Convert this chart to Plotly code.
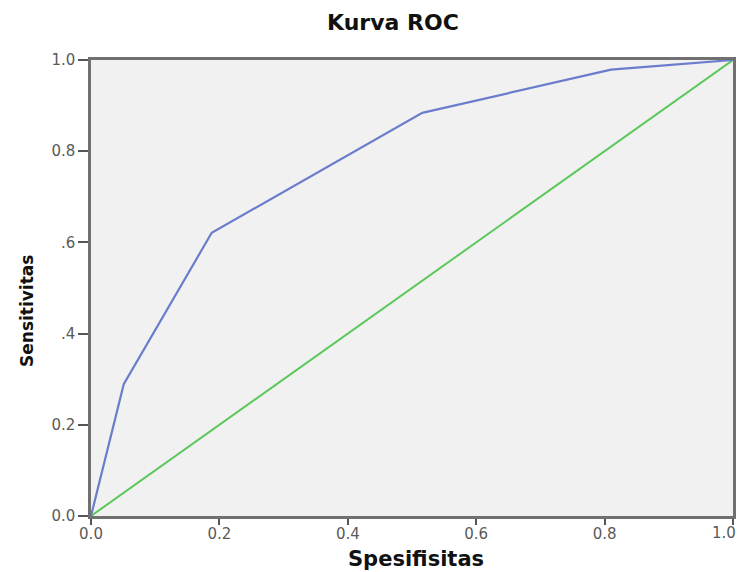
import plotly.graph_objects as go

# ROC curve data (1 - specificity on x, sensitivity on y)
roc_x = [0.0, 0.051, 0.188, 0.516, 0.81, 1.0]
roc_y = [0.0, 0.289, 0.621, 0.884, 0.979, 1.0]
ref_x = [0.0, 1.0]
ref_y = [0.0, 1.0]

tick_vals = [0.0, 0.2, 0.4, 0.6, 0.8, 1.0]
x_tick_text = ["0.0", "0.2", "0.4", "0.6", "0.8", "1.0"]
y_tick_text = ["0.0", "0.2", ".4", ".6", "0.8", "1.0"]

# page body has a default 8px margin
OFF = 8
W, H = 744 - OFF, 572 - OFF
PL, PR, PT, PB = 91, 733, 60, 516  # plot area in window pixels
PW, PH = PR - PL, PB - PT

fig = go.Figure()
fig.add_trace(go.Scatter(x=ref_x, y=ref_y, mode="lines",
                         line=dict(color="#5cc85c", width=2), showlegend=False))
fig.add_trace(go.Scatter(x=roc_x, y=roc_y, mode="lines",
                         line=dict(color="#6a7ccc", width=2.2), showlegend=False))

tick_font = dict(family="DejaVu Sans", size=15, color="#5a5a5a")
axis_common = dict(
    range=[0, 1], tickvals=tick_vals, ticks="outside", tickwidth=1.5,
    tickcolor="#555555", showline=True, linecolor="#707070", linewidth=2.5,
    mirror=True, showgrid=False, zeroline=False, automargin=False,
    tickfont=tick_font,
)

fig.update_layout(
    width=W, height=H,
    margin=dict(l=PL - OFF, r=W - (PR - OFF), t=PT - OFF, b=H - (PB - OFF), pad=0),
    paper_bgcolor="white", plot_bgcolor="#f1f1f1",
    xaxis=dict(axis_common, ticktext=x_tick_text, ticklen=6, ticklabelstandoff=-4),
    yaxis=dict(axis_common, ticktext=y_tick_text, ticklen=10),
    annotations=[
        # last x tick label, kept inside the page edge
        dict(text=x_tick_text[-1], xref="paper", yref="paper",
             x=1 + (738 - PR) / PW, y=-(533 - PB) / PH, xanchor="right", yanchor="middle",
             showarrow=False, font=tick_font),
        dict(text="<b>Kurva ROC</b>", xref="paper", yref="paper",
             x=(393 - PL) / PW, y=1 + (PT - 22) / PH, xanchor="center", yanchor="middle",
             showarrow=False, font=dict(family="DejaVu Sans", size=22, color="#111111")),
        dict(text="<b>Spesifisitas</b>", xref="paper", yref="paper",
             x=(416 - PL) / PW, y=-(559 - PB) / PH, xanchor="center", yanchor="middle",
             showarrow=False, font=dict(family="DejaVu Sans", size=21, color="#111111")),
        dict(text="<b>Sensitivitas</b>", xref="paper", yref="paper", textangle=-90,
             x=-(PL - 27) / PW, y=(PB - 311) / PH, xanchor="center", yanchor="middle",
             showarrow=False, font=dict(family="DejaVu Sans", size=17, color="#111111")),
    ],
)

fig.write_html("out.html")
